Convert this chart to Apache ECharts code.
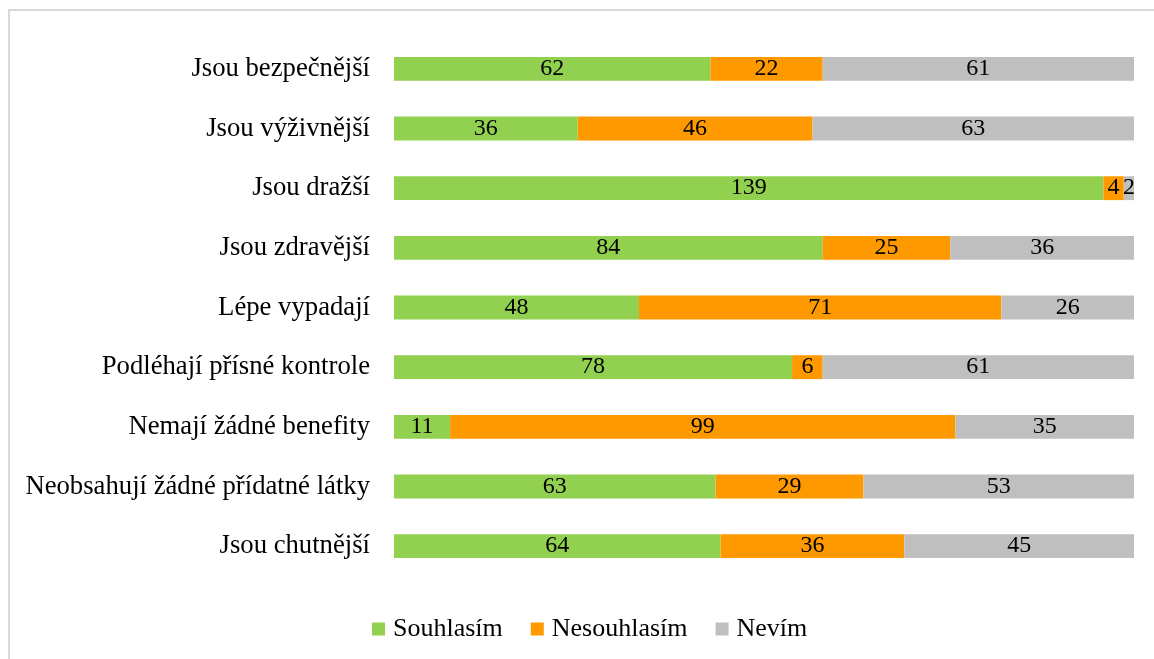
<!DOCTYPE html>
<html>
<head>
<meta charset="utf-8">
<script src="https://cdn.jsdelivr.net/npm/echarts@6/dist/echarts.min.js"></script>
<style>
  html, body { margin: 0; padding: 0; background: #fff; }
  #main { width: 1154px; height: 659px; }
</style>
</head>
<body>
<div id="main"></div>
<script>
var categories = ['Jsou bezpečnější', 'Jsou výživnější', 'Jsou dražší', 'Jsou zdravější', 'Lépe vypadají',
    'Podléhají přísné kontrole', 'Nemají žádné benefity', 'Neobsahují žádné přídatné látky', 'Jsou chutnější'];
var souhlasim = [62, 36, 139, 84, 48, 78, 11, 63, 64];
var nesouhlasim = [22, 46, 4, 25, 71, 6, 99, 29, 36];
var nevim = [61, 63, 2, 36, 26, 61, 35, 53, 45];

var dom = document.getElementById('main');
var myChart = echarts.init(dom, null, { renderer: 'canvas' });
var font = '"Liberation Serif", "Times New Roman", serif';

function mk(name, data, color) {
    return {
        name: name,
        type: 'bar',
        stack: 'all',
        data: data,
        barCategoryGap: '60%',
        itemStyle: { color: color },
        label: {
            show: true,
            position: 'inside',
            color: '#000',
            fontFamily: font,
            fontSize: 24
        }
    };
}

var option = {
    animation: false,
    graphic: [{
        type: 'rect',
        shape: { x: 9, y: 10, width: 1200, height: 700 },
        style: { fill: 'none', stroke: '#d9d9d9', lineWidth: 2 }
    }],
    grid: { left: 394, right: 20, top: 39, bottom: 83 },
    legend: {
        bottom: 12,
        left: 367,
        itemWidth: 13,
        itemHeight: 13,
        itemGap: 28,
        icon: 'rect',
        textStyle: { fontFamily: font, fontSize: 26, color: '#000', padding: [0, 0, 0, 3] },
        data: ['Souhlasím', 'Nesouhlasím', 'Nevím']
    },
    xAxis: {
        type: 'value',
        min: 0,
        max: 145,
        show: false
    },
    yAxis: {
        type: 'category',
        inverse: true,
        data: categories,
        axisLine: { show: false },
        axisTick: { show: false },
        axisLabel: { fontFamily: font, fontSize: 26.7, color: '#000', margin: 24 }
    },
    series: [
        mk('Souhlasím', souhlasim, '#92D050'),
        mk('Nesouhlasím', nesouhlasim, '#FF9900'),
        mk('Nevím', nevim, '#BFBFBF')
    ]
};

myChart.setOption(option);
window.addEventListener('resize', myChart.resize);
</script>
</body>
</html>
